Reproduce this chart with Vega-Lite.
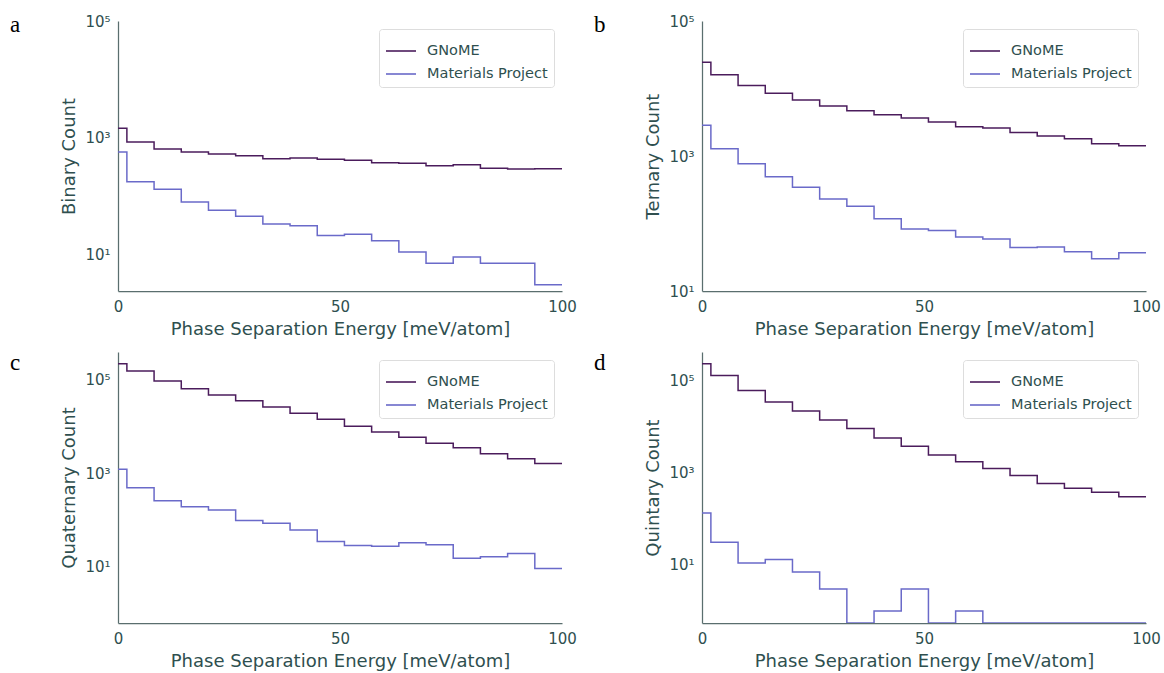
{
  "$schema": "https://vega.github.io/schema/vega-lite/v6.json",
  "padding": {"left": 10, "top": 14, "right": 5, "bottom": 2},
  "background": "white",
  "config": {
    "font": "DejaVu Sans",
    "view": {"stroke": null},
    "axis": {
      "grid": false,
      "ticks": false,
      "domainColor": "#5a6e6e",
      "domainWidth": 1.25,
      "labelColor": "#2f4f4f",
      "titleColor": "#2f4f4f",
      "labelFont": "DejaVu Sans",
      "titleFont": "DejaVu Sans",
      "labelFontSize": 15,
      "titleFontSize": 18,
      "titleFontWeight": "normal",
      "labelPadding": 8,
      "titlePadding": 6,
      "labelFlush": false
    },
    "legend": {
      "labelFont": "DejaVu Sans",
      "labelFontSize": 14.5,
      "labelColor": "#2f4f4f",
      "strokeColor": "#dddddd",
      "fillColor": "white",
      "padding": 6,
      "cornerRadius": 3,
      "symbolType": "stroke",
      "symbolStrokeWidth": 1.6,
      "symbolSize": 900,
      "rowPadding": -8,
      "labelOffset": 10,
      "orient": "top-right",
      "offset": 8,
      "title": null
    },
    "title": {
      "font": "Liberation Serif",
      "fontSize": 23,
      "fontWeight": "normal",
      "color": "#000000",
      "anchor": "start",
      "frame": "group"
    }
  },
  "datasets": {
    "a": [
      {"e": 0, "n": 1445, "s": "GNoME"}, {"e": 2, "n": 843, "s": "GNoME"}, {"e": 8.125, "n": 640, "s": "GNoME"}, {"e": 14.25, "n": 568, "s": "GNoME"}, {"e": 20.375, "n": 525, "s": "GNoME"}, {"e": 26.5, "n": 491, "s": "GNoME"}, {"e": 32.625, "n": 437, "s": "GNoME"}, {"e": 38.75, "n": 448, "s": "GNoME"}, {"e": 44.875, "n": 425, "s": "GNoME"}, {"e": 51, "n": 409, "s": "GNoME"}, {"e": 57.125, "n": 372, "s": "GNoME"}, {"e": 63.25, "n": 363, "s": "GNoME"}, {"e": 69.375, "n": 331, "s": "GNoME"}, {"e": 75.5, "n": 344, "s": "GNoME"}, {"e": 81.625, "n": 298, "s": "GNoME"}, {"e": 87.75, "n": 290, "s": "GNoME"}, {"e": 93.875, "n": 294, "s": "GNoME"}, {"e": 100, "n": 294, "s": "GNoME"},
      {"e": 0, "n": 570, "s": "Materials Project"}, {"e": 2, "n": 176, "s": "Materials Project"}, {"e": 8.125, "n": 130, "s": "Materials Project"}, {"e": 14.25, "n": 79, "s": "Materials Project"}, {"e": 20.375, "n": 57, "s": "Materials Project"}, {"e": 26.5, "n": 45, "s": "Materials Project"}, {"e": 32.625, "n": 33, "s": "Materials Project"}, {"e": 38.75, "n": 31, "s": "Materials Project"}, {"e": 44.875, "n": 21, "s": "Materials Project"}, {"e": 51, "n": 22, "s": "Materials Project"}, {"e": 57.125, "n": 17, "s": "Materials Project"}, {"e": 63.25, "n": 11, "s": "Materials Project"}, {"e": 69.375, "n": 7, "s": "Materials Project"}, {"e": 75.5, "n": 9, "s": "Materials Project"}, {"e": 81.625, "n": 7, "s": "Materials Project"}, {"e": 87.75, "n": 7, "s": "Materials Project"}, {"e": 93.875, "n": 3, "s": "Materials Project"}, {"e": 100, "n": 3, "s": "Materials Project"}
    ],
    "b": [
      {"e": 0, "n": 24400, "s": "GNoME"}, {"e": 2, "n": 16000, "s": "GNoME"}, {"e": 8.125, "n": 11100, "s": "GNoME"}, {"e": 14.25, "n": 8480, "s": "GNoME"}, {"e": 20.375, "n": 6760, "s": "GNoME"}, {"e": 26.5, "n": 5510, "s": "GNoME"}, {"e": 32.625, "n": 4700, "s": "GNoME"}, {"e": 38.75, "n": 4100, "s": "GNoME"}, {"e": 44.875, "n": 3655, "s": "GNoME"}, {"e": 51, "n": 3190, "s": "GNoME"}, {"e": 57.125, "n": 2720, "s": "GNoME"}, {"e": 63.25, "n": 2600, "s": "GNoME"}, {"e": 69.375, "n": 2220, "s": "GNoME"}, {"e": 75.5, "n": 1980, "s": "GNoME"}, {"e": 81.625, "n": 1805, "s": "GNoME"}, {"e": 87.75, "n": 1525, "s": "GNoME"}, {"e": 93.875, "n": 1423, "s": "GNoME"}, {"e": 100, "n": 1423, "s": "GNoME"},
      {"e": 0, "n": 2845, "s": "Materials Project"}, {"e": 2, "n": 1285, "s": "Materials Project"}, {"e": 8.125, "n": 770, "s": "Materials Project"}, {"e": 14.25, "n": 494, "s": "Materials Project"}, {"e": 20.375, "n": 343, "s": "Materials Project"}, {"e": 26.5, "n": 231, "s": "Materials Project"}, {"e": 32.625, "n": 180, "s": "Materials Project"}, {"e": 38.75, "n": 118, "s": "Materials Project"}, {"e": 44.875, "n": 83, "s": "Materials Project"}, {"e": 51, "n": 79, "s": "Materials Project"}, {"e": 57.125, "n": 63, "s": "Materials Project"}, {"e": 63.25, "n": 59, "s": "Materials Project"}, {"e": 69.375, "n": 44, "s": "Materials Project"}, {"e": 75.5, "n": 45, "s": "Materials Project"}, {"e": 81.625, "n": 38, "s": "Materials Project"}, {"e": 87.75, "n": 30, "s": "Materials Project"}, {"e": 93.875, "n": 37, "s": "Materials Project"}, {"e": 100, "n": 37, "s": "Materials Project"}
    ],
    "c": [
      {"e": 0, "n": 224000, "s": "GNoME"}, {"e": 2, "n": 156000, "s": "GNoME"}, {"e": 8.125, "n": 95000, "s": "GNoME"}, {"e": 14.25, "n": 65000, "s": "GNoME"}, {"e": 20.375, "n": 47700, "s": "GNoME"}, {"e": 26.5, "n": 36000, "s": "GNoME"}, {"e": 32.625, "n": 26300, "s": "GNoME"}, {"e": 38.75, "n": 19300, "s": "GNoME"}, {"e": 44.875, "n": 14300, "s": "GNoME"}, {"e": 51, "n": 10100, "s": "GNoME"}, {"e": 57.125, "n": 7650, "s": "GNoME"}, {"e": 63.25, "n": 5890, "s": "GNoME"}, {"e": 69.375, "n": 4370, "s": "GNoME"}, {"e": 75.5, "n": 3520, "s": "GNoME"}, {"e": 81.625, "n": 2620, "s": "GNoME"}, {"e": 87.75, "n": 2040, "s": "GNoME"}, {"e": 93.875, "n": 1620, "s": "GNoME"}, {"e": 100, "n": 1620, "s": "GNoME"},
      {"e": 0, "n": 1213, "s": "Materials Project"}, {"e": 2, "n": 489, "s": "Materials Project"}, {"e": 8.125, "n": 257, "s": "Materials Project"}, {"e": 14.25, "n": 191, "s": "Materials Project"}, {"e": 20.375, "n": 162, "s": "Materials Project"}, {"e": 26.5, "n": 96, "s": "Materials Project"}, {"e": 32.625, "n": 84, "s": "Materials Project"}, {"e": 38.75, "n": 60, "s": "Materials Project"}, {"e": 44.875, "n": 34, "s": "Materials Project"}, {"e": 51, "n": 28, "s": "Materials Project"}, {"e": 57.125, "n": 27, "s": "Materials Project"}, {"e": 63.25, "n": 32, "s": "Materials Project"}, {"e": 69.375, "n": 29, "s": "Materials Project"}, {"e": 75.5, "n": 15, "s": "Materials Project"}, {"e": 81.625, "n": 16, "s": "Materials Project"}, {"e": 87.75, "n": 19, "s": "Materials Project"}, {"e": 93.875, "n": 9, "s": "Materials Project"}, {"e": 100, "n": 9, "s": "Materials Project"}
    ],
    "d": [
      {"e": 0, "n": 226000, "s": "GNoME"}, {"e": 2, "n": 126000, "s": "GNoME"}, {"e": 8.125, "n": 59700, "s": "GNoME"}, {"e": 14.25, "n": 33800, "s": "GNoME"}, {"e": 20.375, "n": 21500, "s": "GNoME"}, {"e": 26.5, "n": 13700, "s": "GNoME"}, {"e": 32.625, "n": 8950, "s": "GNoME"}, {"e": 38.75, "n": 5570, "s": "GNoME"}, {"e": 44.875, "n": 3720, "s": "GNoME"}, {"e": 51, "n": 2380, "s": "GNoME"}, {"e": 57.125, "n": 1700, "s": "GNoME"}, {"e": 63.25, "n": 1220, "s": "GNoME"}, {"e": 69.375, "n": 860, "s": "GNoME"}, {"e": 75.5, "n": 576, "s": "GNoME"}, {"e": 81.625, "n": 457, "s": "GNoME"}, {"e": 87.75, "n": 373, "s": "GNoME"}, {"e": 93.875, "n": 300, "s": "GNoME"}, {"e": 100, "n": 300, "s": "GNoME"},
      {"e": 0, "n": 133, "s": "Materials Project"}, {"e": 2, "n": 31, "s": "Materials Project"}, {"e": 8.125, "n": 11, "s": "Materials Project"}, {"e": 14.25, "n": 13, "s": "Materials Project"}, {"e": 20.375, "n": 7, "s": "Materials Project"}, {"e": 26.5, "n": 3, "s": "Materials Project"}, {"e": 32.625, "n": 0, "s": "Materials Project"}, {"e": 38.75, "n": 1, "s": "Materials Project"}, {"e": 44.875, "n": 3, "s": "Materials Project"}, {"e": 51, "n": 0, "s": "Materials Project"}, {"e": 57.125, "n": 1, "s": "Materials Project"}, {"e": 63.25, "n": 0, "s": "Materials Project"}, {"e": 69.375, "n": 0, "s": "Materials Project"}, {"e": 75.5, "n": 0, "s": "Materials Project"}, {"e": 81.625, "n": 0, "s": "Materials Project"}, {"e": 87.75, "n": 0, "s": "Materials Project"}, {"e": 93.875, "n": 0, "s": "Materials Project"}, {"e": 100, "n": 0, "s": "Materials Project"}
    ]
  },
  "resolve": {"scale": {"color": "independent", "y": "independent", "x": "independent"}, "legend": {"color": "independent"}},
  "spacing": 14,
  "vconcat": [
    {
      "hconcat": [
        {
          "width": 444, "height": 270,
          "title": {"text": "a", "dx": -108, "dy": 27},
          "data": {"name": "a"},
          "mark": {"type": "line", "interpolate": "step-after", "strokeWidth": 1.5, "clip": true, "invalid": "show"},
          "encoding": {
            "x": {"field": "e", "type": "quantitative", "scale": {"domain": [0, 100], "nice": false, "zero": false}, "axis": {"values": [0, 50, 100], "title": "Phase Separation Energy [meV/atom]"}},
            "y": {"field": "n", "type": "quantitative", "scale": {"type": "log", "domain": [2.35, 100000], "nice": false, "clamp": true}, "axis": {"values": [10, 1000, 100000], "labelExpr": "datum.value == 10 ? '10¹' : datum.value == 1000 ? '10³' : '10⁵'", "title": "Binary Count"}},
            "color": {"field": "s", "type": "nominal", "scale": {"domain": ["GNoME", "Materials Project"], "range": ["#4b1c5c", "#6a6ac9"]}}
          }
        },
        {
          "width": 444, "height": 270,
          "title": {"text": "b", "dx": -108, "dy": 27},
          "data": {"name": "b"},
          "mark": {"type": "line", "interpolate": "step-after", "strokeWidth": 1.5, "clip": true, "invalid": "show"},
          "encoding": {
            "x": {"field": "e", "type": "quantitative", "scale": {"domain": [0, 100], "nice": false, "zero": false}, "axis": {"values": [0, 50, 100], "title": "Phase Separation Energy [meV/atom]"}},
            "y": {"field": "n", "type": "quantitative", "scale": {"type": "log", "domain": [10, 100000], "nice": false, "clamp": true}, "axis": {"values": [10, 1000, 100000], "labelExpr": "datum.value == 10 ? '10¹' : datum.value == 1000 ? '10³' : '10⁵'", "title": "Ternary Count"}},
            "color": {"field": "s", "type": "nominal", "scale": {"domain": ["GNoME", "Materials Project"], "range": ["#4b1c5c", "#6a6ac9"]}}
          }
        }
      ],
      "spacing": 17,
      "resolve": {"scale": {"color": "independent", "y": "independent", "x": "independent"}, "legend": {"color": "independent"}}
    },
    {
      "hconcat": [
        {
          "width": 444, "height": 271,
          "title": {"text": "c", "dx": -108, "dy": 27},
          "data": {"name": "c"},
          "mark": {"type": "line", "interpolate": "step-after", "strokeWidth": 1.5, "clip": true, "invalid": "show"},
          "encoding": {
            "x": {"field": "e", "type": "quantitative", "scale": {"domain": [0, 100], "nice": false, "zero": false}, "axis": {"values": [0, 50, 100], "title": "Phase Separation Energy [meV/atom]"}},
            "y": {"field": "n", "type": "quantitative", "scale": {"type": "log", "domain": [0.61, 398000], "nice": false, "clamp": true}, "axis": {"values": [10, 1000, 100000], "labelExpr": "datum.value == 10 ? '10¹' : datum.value == 1000 ? '10³' : '10⁵'", "title": "Quaternary Count"}},
            "color": {"field": "s", "type": "nominal", "scale": {"domain": ["GNoME", "Materials Project"], "range": ["#4b1c5c", "#6a6ac9"]}}
          }
        },
        {
          "width": 444, "height": 271,
          "title": {"text": "d", "dx": -108, "dy": 27},
          "data": {"name": "d"},
          "mark": {"type": "line", "interpolate": "step-after", "strokeWidth": 1.5, "clip": true, "invalid": "show"},
          "encoding": {
            "x": {"field": "e", "type": "quantitative", "scale": {"domain": [0, 100], "nice": false, "zero": false}, "axis": {"values": [0, 50, 100], "title": "Phase Separation Energy [meV/atom]"}},
            "y": {"field": "n", "type": "quantitative", "scale": {"type": "log", "domain": [0.55, 407000], "nice": false, "clamp": true}, "axis": {"values": [10, 1000, 100000], "labelExpr": "datum.value == 10 ? '10¹' : datum.value == 1000 ? '10³' : '10⁵'", "title": "Quintary Count"}},
            "color": {"field": "s", "type": "nominal", "scale": {"domain": ["GNoME", "Materials Project"], "range": ["#4b1c5c", "#6a6ac9"]}}
          }
        }
      ],
      "spacing": 17,
      "resolve": {"scale": {"color": "independent", "y": "independent", "x": "independent"}, "legend": {"color": "independent"}}
    }
  ]
}
